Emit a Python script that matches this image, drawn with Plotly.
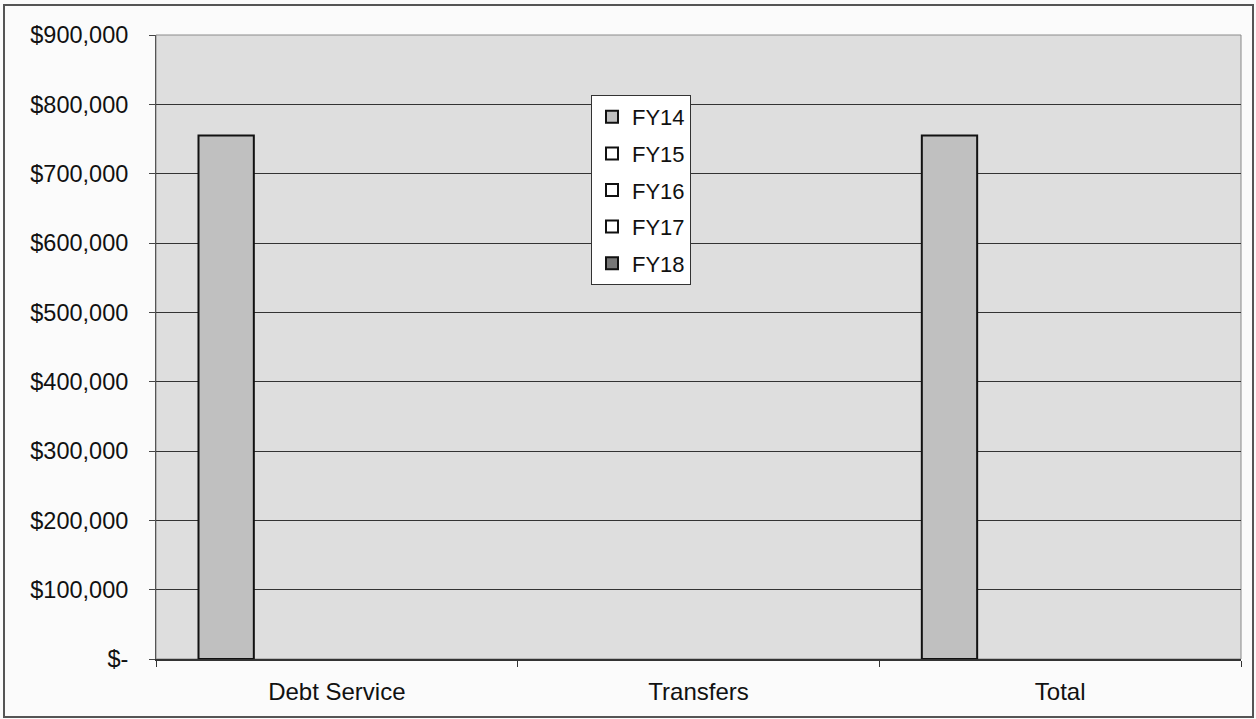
import plotly.graph_objects as go

# Budget categories and fiscal-year series (None = no amount entered)
categories = ["Debt Service", "Transfers", "Total"]
fy14 = [755000, None, 755000]
fy15 = [None, None, None]
fy16 = [None, None, None]
fy17 = [None, None, None]
fy18 = [None, None, None]

series_names = ["FY14", "FY15", "FY16", "FY17", "FY18"]
series_values = [fy14, fy15, fy16, fy17, fy18]
series_colors = ["#c0c0c0", "#ffffff", "#ffffff", "#ffffff", "#777777"]

y_tickvals = [0, 100000, 200000, 300000, 400000, 500000, 600000, 700000, 800000, 900000]
y_ticktext = ["$-", "$100,000", "$200,000", "$300,000", "$400,000",
              "$500,000", "$600,000", "$700,000", "$800,000", "$900,000"]

W, H = 1256, 719
ML, MR, MT, MB = 156, 15, 35, 60
PW, PH = W - ML - MR, H - MT - MB


def px_x(px):
    return (px - ML) / PW


def px_y(py):
    return (H - MB - py) / PH


FONT = "Arial, 'Liberation Sans', sans-serif"

fig = go.Figure()
for name, vals, col in zip(series_names, series_values, series_colors):
    fig.add_trace(go.Bar(
        name=name,
        x=categories,
        y=vals,
        legendgroup=name,
        marker=dict(color=col, line=dict(color="#111111", width=2)),
    ))

fig.update_layout(
    width=W,
    height=H,
    margin=dict(l=ML, r=MR, t=MT, b=MB),
    barmode="group",
    bargap=0.235,
    bargroupgap=0,
    paper_bgcolor="#fbfbfb",
    plot_bgcolor="#dedede",
    font=dict(family=FONT, size=23, color="#111111"),
    showlegend=True,
    legend=dict(
        x=px_x(591),
        y=px_y(95),
        xanchor="left",
        yanchor="top",
        bgcolor="#ffffff",
        bordercolor="#333333",
        borderwidth=1,
        tracegroupgap=5,
        font=dict(family=FONT, size=22, color="#111111"),
        itemclick=False,
    ),
    xaxis=dict(
        type="category",
        showgrid=False,
        showline=True,
        linecolor="#333333",
        linewidth=2,
        ticks="outside",
        tickson="boundaries",
        ticklen=6,
        tickcolor="#333333",
        tickfont=dict(family=FONT, size=24, color="#111111"),
        ticklabelstandoff=10,
        zeroline=False,
    ),
    yaxis=dict(
        range=[0, 900000],
        tickvals=y_tickvals,
        ticktext=y_ticktext,
        showgrid=True,
        gridcolor="#333333",
        gridwidth=1,
        showline=True,
        linecolor="#555555",
        linewidth=1,
        ticks="outside",
        ticklen=6,
        tickcolor="#444444",
        tickfont=dict(family=FONT, size=23.5, color="#111111"),
        ticklabelstandoff=16,
        zeroline=False,
    ),
    shapes=[
        # plot-area frame on the top and right edges
        dict(type="rect", xref="paper", yref="paper", x0=0, x1=1, y0=0, y1=1,
             line=dict(color="#8a8a8a", width=1), layer="below"),
        # outer chart border
        dict(type="rect", xref="paper", yref="paper",
             x0=px_x(4), x1=px_x(1253), y0=px_y(717), y1=px_y(5),
             line=dict(color="#555555", width=2)),
    ],
)

fig.write_html("out.html")
